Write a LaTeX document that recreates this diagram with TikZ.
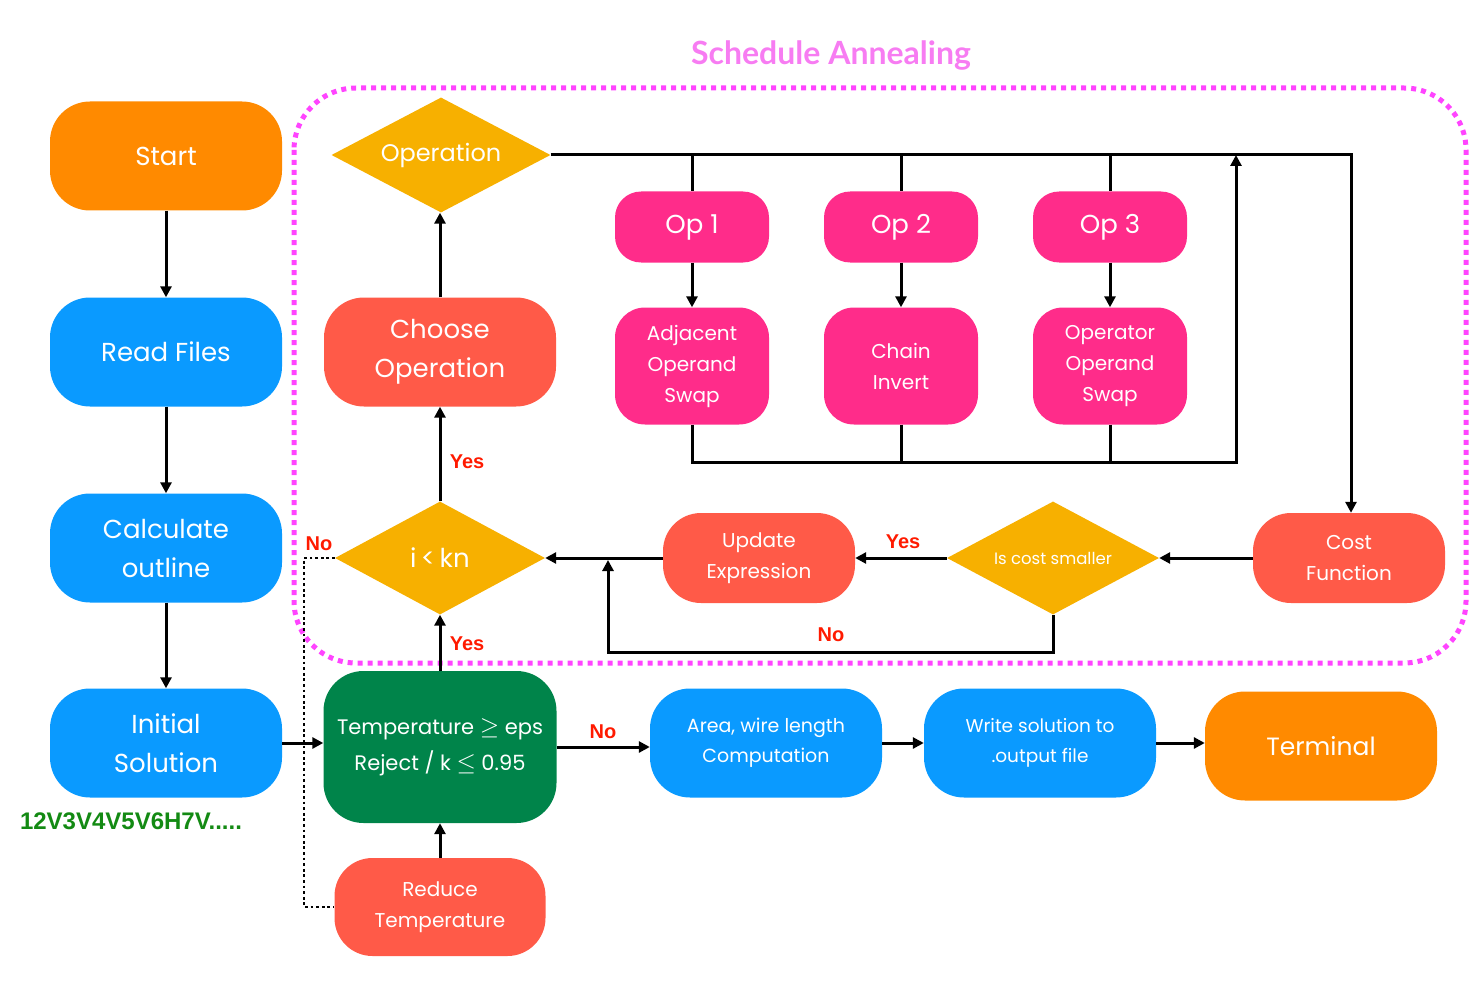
\documentclass[tikz,border=0pt]{standalone}
\usepackage{fontspec}
\setmainfont{Poppins}
\newfontfamily\labfont{Liberation Sans}
\newfontfamily\ttlfont{Lato}
\usetikzlibrary{shapes.geometric,arrows.meta}
\definecolor{orng}{HTML}{FF8A00}
\definecolor{blu}{HTML}{0A9AFF}
\definecolor{cor}{HTML}{FF5A48}
\definecolor{pnk}{HTML}{FF2C8A}
\definecolor{yel}{HTML}{F7B000}
\definecolor{dgr}{HTML}{00844A}
\definecolor{magd}{HTML}{FF44FF}
\definecolor{ttl}{HTML}{F77CF2}
\definecolor{redl}{HTML}{FF1A00}
\definecolor{grn}{HTML}{138A13}
\newcommand{\bigrel}[1]{{\fontsize{25}{25}\selectfont$#1$}}
\begin{document}
\begin{tikzpicture}[x=1pt,y=-1pt,
  box/.style={rectangle, rounded corners=40pt, text=white, align=center, inner sep=0pt,
    minimum width=232pt, minimum height=109pt, font=\fontsize{26}{39}\selectfont},
  opbox/.style={rectangle, rounded corners=26pt, fill=pnk, text=white, align=center, inner sep=0pt,
    minimum width=154pt, minimum height=71pt, font=\fontsize{26}{32}\selectfont},
  swbox/.style={rectangle, rounded corners=30pt, fill=pnk, text=white, align=center, inner sep=0pt,
    minimum width=154pt, minimum height=117pt, font=\fontsize{20}{31}\selectfont},
  midbox/.style={rectangle, rounded corners=38pt, fill=cor, text=white, align=center, inner sep=0pt,
    minimum width=192pt, minimum height=90pt, font=\fontsize{20}{31}\selectfont},
  dia/.style={diamond, aspect=1.9, fill=yel, text=white, inner sep=0pt, align=center},
  ln/.style={line width=3pt, draw=black},
  arr/.style={ln, -{Triangle[length=11pt,width=11pt]}},
  dotln/.style={line width=2.8pt, dash pattern=on 2.8pt off 2.8pt},
  yn/.style={text=redl, font=\labfont\bfseries\fontsize{20}{24}\selectfont, inner sep=0pt}
]
\useasboundingbox (0,0) rectangle (1480,995);

% title and annealing region
\node[text=ttl, font=\ttlfont\bfseries\fontsize{32}{38}\selectfont] (title) at (831,56) {Schedule Annealing};
\draw[magd, line width=5pt, dash pattern=on 5pt off 5pt, rounded corners=62pt] (294,88) rectangle (1466,663);

% left column
\node[box, fill=orng] (start) at (166,156) {Start};
\node[box, fill=blu] (read) at (166,352) {Read Files};
\node[box, fill=blu] (calc) at (166,548) {Calculate\\outline};
\node[box, fill=blu] (init) at (166,743) {Initial\\Solution};
\node[text=grn, font=\labfont\bfseries\fontsize{24}{28}\selectfont] (seq) at (131,821) {12V3V4V5V6H7V.....};

% middle column
\node[dia, minimum width=219pt, minimum height=115pt, font=\fontsize{24}{28}\selectfont] (oper) at (441,155) {Operation};
\node[box, fill=cor] (choose) at (440,352) {Choose\\Operation};
\node[dia, minimum width=210pt, minimum height=113pt, font=\fontsize{26}{30}\selectfont] (ikn) at (440,558) {i\,<\,kn};
\node[box, fill=dgr, minimum height=152pt, minimum width=233pt, font=\fontsize{21}{36}\selectfont] (temp) at (440,747) {Temperature \bigrel{\geq} eps\\Reject / k \bigrel{\leq} 0.95};
\node[midbox, minimum width=211pt, minimum height=98pt] (red) at (440,907) {Reduce\\Temperature};

% operations
\node[opbox] (op1) at (692,227) {Op 1};
\node[opbox] (op2) at (901,227) {Op 2};
\node[opbox] (op3) at (1110,227) {Op 3};
\node[swbox] (aos) at (692,366) {Adjacent\\Operand\\Swap};
\node[swbox] (ci) at (901,366) {Chain\\Invert};
\node[swbox] (oos) at (1110,366) {Operator\\Operand\\Swap};

% evaluation row
\node[midbox] (cost) at (1349,558) {Cost\\Function};
\node[dia, minimum width=212pt, minimum height=113pt, font=\fontsize{16.5}{20}\selectfont] (iscost) at (1053,558) {Is cost smaller};
\node[midbox] (upd) at (759,558) {Update\\Expression};

% bottom row
\node[box, fill=blu, font=\fontsize{19}{30}\selectfont] (area) at (766,743) {Area, wire length\\Computation};
\node[box, fill=blu, font=\fontsize{18.5}{30}\selectfont] (write) at (1040,743) {Write solution to\\.output file};
\node[box, fill=orng, font=\fontsize{25}{30}\selectfont] (term) at (1321,746) {Terminal};

% left column arrows
\draw[arr] (start) -- (read);
\draw[arr] (read) -- (calc);
\draw[arr] (calc) -- (init);
\draw[arr] (init.east) -- (init.east -| temp.west);

% middle column arrows
\draw[arr] (red) -- (temp);
\draw[arr] (temp) -- (ikn);
\draw[arr] (ikn) -- (choose);
\draw[arr] (choose.north) -- (choose.north |- oper.south);
\node[yn] (yes1) at (467,644) {Yes};
\node[yn] (yes2) at (467,462) {Yes};

% operation fan-out
\coordinate (tr) at (1351,155);
\draw[arr] (oper.east) -- (tr) -- (tr |- cost.north);
\draw[ln] (op1.north |- oper.east) -- (op1.north);
\draw[ln] (op2.north |- oper.east) -- (op2.north);
\draw[ln] (op3.north |- oper.east) -- (op3.north);
\draw[arr] (op1) -- (aos);
\draw[arr] (op2) -- (ci);
\draw[arr] (op3) -- (oos);
\coordinate (cb) at (1236,462);
\coordinate (ct) at (1236,155);
\draw[arr] (aos.south) |- (cb) -- (ct);
\draw[ln] (ci.south) -- (ci.south |- cb);
\draw[ln] (oos.south) -- (oos.south |- cb);

% evaluation arrows
\draw[arr] (cost) -- (iscost);
\draw[arr] (iscost) -- (upd);
\node[yn] (yes3) at (903,542) {Yes};
\draw[arr] (upd) -- (ikn);
\coordinate (nb) at (608,652);
\draw[arr] (iscost.south) |- (nb) -- (608,560);
\node[yn] (no2) at (831,635) {No};

% exit
\draw[arr] (temp.east) -- (temp.east -| area.west);
\node[yn] (no3) at (603,732) {No};
\draw[arr] (area) -- (write);
\draw[arr] (write.east) -- (write.east -| term.west);

% dotted loop back to reduce temperature
\coordinate (dl) at (304,558);
\draw[dotln] (ikn.west) -- (dl) |- (red.west);
\node[yn] (no1) at (319,544) {No};
\end{tikzpicture}
\end{document}
